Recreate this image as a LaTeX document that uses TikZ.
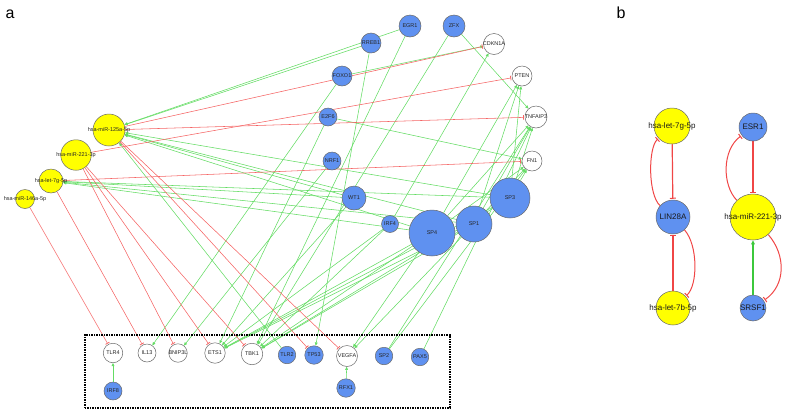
\documentclass[tikz,border=0pt]{standalone}
\usepackage{fontspec}
\setmainfont{Liberation Sans}
\usetikzlibrary{arrows.meta}
\pgfdeclarelayer{bg}
\pgfsetlayers{bg,main}
\definecolor{nblue}{RGB}{95,145,240}
\definecolor{nyel}{RGB}{255,255,0}
\definecolor{ngray}{RGB}{105,105,105}
\definecolor{egreen}{RGB}{100,220,100}
\definecolor{ered}{RGB}{245,100,100}
\definecolor{ered2}{RGB}{240,70,70}
\definecolor{egreen2}{RGB}{60,200,60}
\begin{document}
\begin{tikzpicture}[x=1pt,y=1pt,
  base/.style={circle, draw=ngray, line width=0.5pt, inner sep=0pt},
  bn/.style={base, fill=nblue},
  yn/.style={base, fill=nyel},
  wn/.style={base, fill=white},
  la/.style={font=\fontsize{5.5}{6}\selectfont, inner sep=0pt, text=black!85},
  lb/.style={font=\fontsize{8}{9}\selectfont, inner sep=0pt, text=black!90},
  act/.style={draw=egreen, line width=0.55pt, -{Triangle[length=3.2pt,width=2.8pt,fill=egreen]}},
  inh/.style={draw=ered, line width=0.55pt, shorten >=0.8pt, -{Bar[width=4.5pt,line width=0.8pt]}},
  actb/.style={draw=egreen2, line width=1.2pt, -{Triangle[length=4pt,width=3.5pt,fill=egreen2]}},
  inhb/.style={draw=ered2, line width=1pt, shorten >=1pt, -{Bar[width=6pt,line width=1pt]}},
  inhs/.style={inhb, line width=1.2pt},
  dotbox/.style={draw=black, line width=1.6pt, dash pattern=on 1.4pt off 1.1pt, inner sep=0pt},
  panel/.style={font=\fontsize{16}{18}\selectfont, inner sep=0pt}
]
\useasboundingbox (0,0) rectangle (787,-413);
% panel labels
\node[panel] (pa) at (10,-14) {a};
\node[panel] (pb) at (621,-13) {b};
% ---------- panel a nodes ----------
\node[bn,minimum size=22pt,label={[la]center:EGR1}] (egr1) at (410,-26) {};
\node[bn,minimum size=22pt,label={[la]center:ZFX}] (zfx) at (454,-26) {};
\node[bn,minimum size=20pt,label={[la]center:RREB1}] (rreb1) at (371,-43) {};
\node[wn,minimum size=21pt,label={[la]center:CDKN1A}] (cdkn1a) at (494,-44) {};
\node[bn,minimum size=20pt,label={[la]center:FOXO1}] (foxo1) at (342,-76) {};
\node[wn,minimum size=20pt,label={[la]center:PTEN}] (pten) at (522,-76) {};
\node[bn,minimum size=18pt,label={[la]center:E2F6}] (e2f6) at (328,-117) {};
\node[wn,minimum size=22pt,label={[la]center:TNFAIP3}] (tnfaip3) at (536,-117) {};
\node[bn,minimum size=18pt,label={[la]center:NRF1}] (nrf1) at (332,-161) {};
\node[wn,minimum size=20pt,label={[la]center:FN1}] (fn1) at (532,-161) {};
\node[bn,minimum size=24pt,label={[la]center:WT1}] (wt1) at (354,-198) {};
\node[bn,minimum size=40pt,label={[la]center:SP3}] (sp3) at (510,-198) {};
\node[bn,minimum size=17pt,label={[la]center:IRF4}] (irf4) at (390,-224) {};
\node[bn,minimum size=36pt,label={[la]center:SP1}] (sp1) at (474,-224) {};
\node[bn,minimum size=46pt,label={[la]center:SP4}] (sp4) at (432,-233) {};
\node[yn,minimum size=32pt,label={[la]center:hsa-miR-125a-5p}] (m125) at (109,-130) {};
\node[yn,minimum size=30.5pt,label={[la]center:hsa-miR-221-3p}] (m221) at (76,-155) {};
\node[yn,minimum size=24pt,label={[la]center:hsa-let-7g-5p}] (let7g) at (51,-181) {};
\node[yn,minimum size=19pt,label={[la]center:hsa-miR-146a-5p}] (m146) at (25,-199) {};
\node[dotbox,anchor=north west,minimum width=365pt,minimum height=73pt] (tfbox) at (84,-334) {};
\node[wn,minimum size=19.5pt,label={[la]center:TLR4}] (tlr4) at (113,-353) {};
\node[wn,minimum size=18pt,label={[la]center:IL13}] (il13) at (147,-353) {};
\node[wn,minimum size=18.5pt,label={[la]center:BNIP3L}] (bnip3l) at (178,-353) {};
\node[wn,minimum size=20.5pt,label={[la]center:ETS1}] (ets1) at (215,-353) {};
\node[wn,minimum size=21.5pt,label={[la]center:TBK1}] (tbk1) at (252,-354) {};
\node[bn,minimum size=18pt,label={[la]center:IRF8}] (irf8) at (113,-391) {};
\node[bn,minimum size=17.5pt,label={[la]center:TLR2}] (tlr2) at (287,-355) {};
\node[bn,minimum size=18.5pt,label={[la]center:TP53}] (tp53) at (314,-355) {};
\node[wn,minimum size=21pt,label={[la]center:VEGFA}] (vegfa) at (347,-356) {};
\node[bn,minimum size=17.5pt,label={[la]center:SP2}] (sp2) at (384,-356) {};
\node[bn,minimum size=17.5pt,label={[la]center:PAX5}] (pax5) at (420,-357) {};
\node[bn,minimum size=18.5pt,label={[la]center:RFX1}] (rfx1) at (346,-388) {};
% ---------- panel b nodes ----------
\node[yn,minimum size=36pt,label={[lb]center:hsa-let-7g-5p}] (let7gb) at (672,-126) {};
\node[bn,minimum size=34pt,label={[lb]center:LIN28A}] (lin28a) at (673,-217) {};
\node[yn,minimum size=34pt,label={[lb]center:hsa-let-7b-5p}] (let7bb) at (673,-308) {};
\node[bn,minimum size=28pt,label={[lb]center:ESR1}] (esr1) at (753,-127) {};
\node[yn,minimum size=46pt,label={[lb]center:hsa-miR-221-3p}] (m221b) at (753,-217) {};
\node[bn,minimum size=26pt,label={[lb]center:SRSF1}] (srsf1) at (753,-308) {};
% ---------- edges ----------
\begin{pgfonlayer}{bg}
% green activations, panel a
\foreach \s/\t in {egr1/m125, rreb1/m125, tlr2/m125, wt1/m125, sp1/m125, sp3/m125, sp4/m125,
  wt1/let7g, sp1/let7g, sp3/let7g, sp4/let7g,
  foxo1/cdkn1a, irf4/cdkn1a, zfx/tnfaip3, e2f6/fn1, foxo1/il13, nrf1/bnip3l, e2f6/ets1,
  egr1/tbk1, zfx/tbk1, rreb1/tp53, irf8/tlr4, rfx1/vegfa,
  sp2/tnfaip3, sp2/fn1, pax5/tnfaip3,
  sp1/pten, sp3/pten, sp4/pten, sp1/tnfaip3, sp3/tnfaip3, sp4/tnfaip3,
  sp1/fn1, sp3/fn1, sp4/fn1,
  sp4/ets1, sp1/ets1, sp3/ets1, irf4/ets1, wt1/ets1,
  sp4/tbk1, sp1/tbk1, sp3/tbk1, irf4/tbk1,
  sp4/vegfa, sp1/vegfa}
  \draw[act] (\s) -- (\t);
% red inhibitions, panel a
\foreach \s/\t in {m125/cdkn1a, m125/tnfaip3, m221/pten, let7g/fn1, m146/tlr4, let7g/il13,
  m221/bnip3l, m221/ets1, m221/tbk1, m125/tp53, m125/vegfa}
  \draw[inh] (\s) -- (\t);
% panel b
\draw[inhs] (let7gb) -- (lin28a);
\draw[inhb] (lin28a) .. controls (648,-195) and (648,-148) .. (let7gb);
\draw[inhs] (let7bb) -- (lin28a);
\draw[inhb] (lin28a) .. controls (698,-245) and (698,-285) .. (let7bb);
\draw[inhs] (esr1) -- (m221b);
\draw[inhb] (m221b) .. controls (722,-185) and (722,-150) .. (esr1);
\draw[actb] (srsf1) -- (m221b);
\draw[inhb] (m221b) .. controls (786,-255) and (786,-285) .. (srsf1);
\end{pgfonlayer}
\end{tikzpicture}
\end{document}
